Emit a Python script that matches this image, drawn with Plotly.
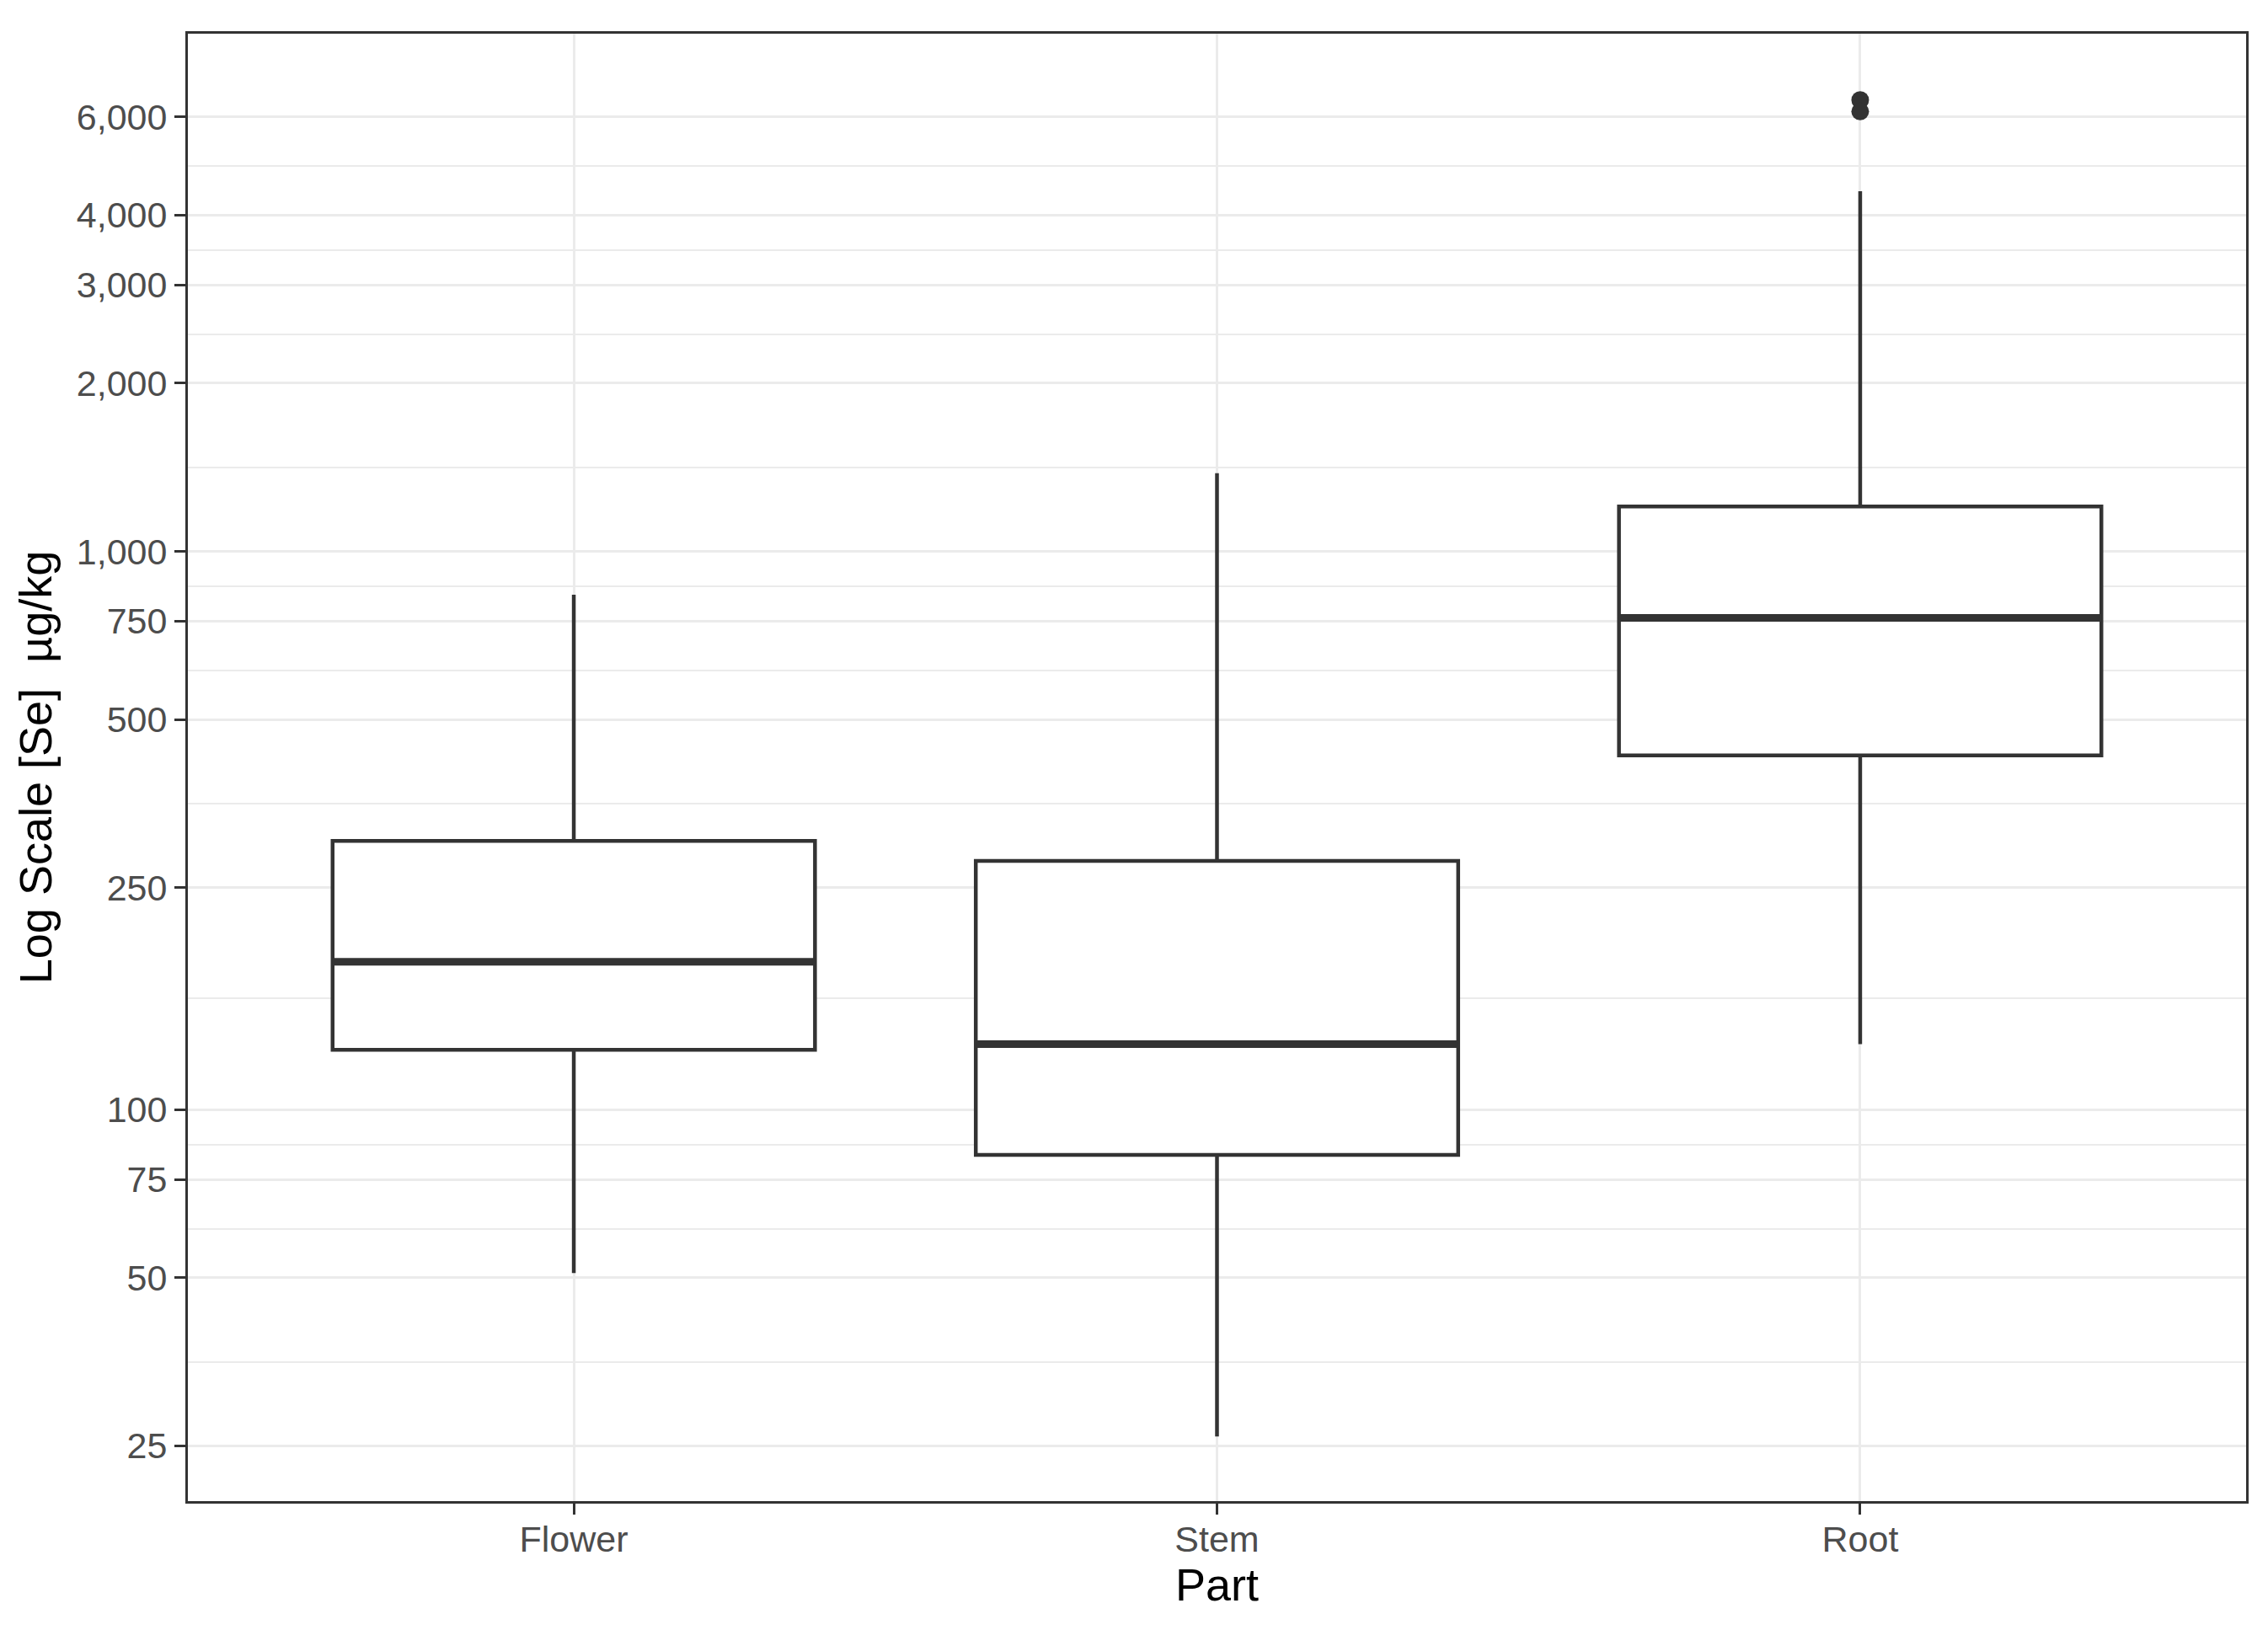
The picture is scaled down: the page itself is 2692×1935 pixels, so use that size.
import plotly.graph_objects as go
import math

# ---- data ----
parts = ["Flower", "Stem", "Root"]
lower_whisker = [51, 26, 131]
q1_vals = [128, 83, 431]
median_vals = [184, 131, 760]
q3_vals = [303, 279, 1203]
upper_whisker = [836, 1380, 4415]
outlier_parts = ["Root", "Root"]
outlier_vals = [6430, 6134]

y_tick_vals = [25, 50, 75, 100, 250, 500, 750, 1000, 2000, 3000, 4000, 6000]
y_tick_text = ["25", "50", "75", "100", "250", "500", "750", "1,000", "2,000", "3,000", "4,000", "6,000"]
minor_vals = [math.sqrt(a * b) for a, b in zip(y_tick_vals[:-1], y_tick_vals[1:])]

DARK = "#333333"
GRID = "#EBEBEB"
FONT = "Liberation Sans, Arial, Helvetica, sans-serif"

fig = go.Figure()

fig.add_trace(go.Box(
    x=parts, q1=q1_vals, median=median_vals, q3=q3_vals,
    lowerfence=lower_whisker, upperfence=upper_whisker,
    width=0.75, whiskerwidth=0, fillcolor="white",
    line=dict(color=DARK, width=4.5), boxpoints=False, showlegend=False,
))
# thicker median line overlay
fig.add_trace(go.Box(
    x=parts, q1=median_vals, median=median_vals, q3=median_vals,
    lowerfence=median_vals, upperfence=median_vals,
    width=0.75, whiskerwidth=0, fillcolor="rgba(0,0,0,0)",
    line=dict(color=DARK, width=9), boxpoints=False, showlegend=False,
))
fig.add_trace(go.Scatter(
    x=outlier_parts, y=outlier_vals, mode="markers",
    marker=dict(color=DARK, size=21), showlegend=False,
))

fig.update_layout(
    width=2676, height=1919,
    margin=dict(l=215, r=18, t=32, b=145),
    paper_bgcolor="white", plot_bgcolor="white",
    boxmode="overlay",
    font=dict(family=FONT, color="#4D4D4D"),
)

fig.update_xaxes(
    type="category", categoryorder="array", categoryarray=parts,
    range=[-0.6, 2.6],
    showgrid=True, gridcolor=GRID, gridwidth=3,
    showline=True, mirror=True, linecolor=DARK, linewidth=3,
    ticks="outside", ticklen=13, tickwidth=3, tickcolor=DARK,
    ticklabelstandoff=-8,
    tickfont=dict(size=43, color="#4D4D4D", family=FONT),
    title=dict(text="Part", font=dict(size=54, color="black", family=FONT), standoff=8),
)
fig.update_yaxes(
    type="log", range=[1.299, 3.927],
    tickmode="array", tickvals=y_tick_vals, ticktext=y_tick_text,
    showgrid=True, gridcolor=GRID, gridwidth=3,
    minor=dict(tickmode="array", tickvals=minor_vals, showgrid=True,
               gridcolor=GRID, gridwidth=2, ticks=""),
    showline=True, mirror=True, linecolor=DARK, linewidth=3,
    ticks="outside", ticklen=13, tickwidth=3, tickcolor=DARK,
    tickfont=dict(size=43, color="#4D4D4D", family=FONT),
    zeroline=False,
    title=dict(text="Log Scale [Se] \u00a0µg/kg", font=dict(size=54, color="black", family=FONT), standoff=12),
)

fig.write_html("out.html")
